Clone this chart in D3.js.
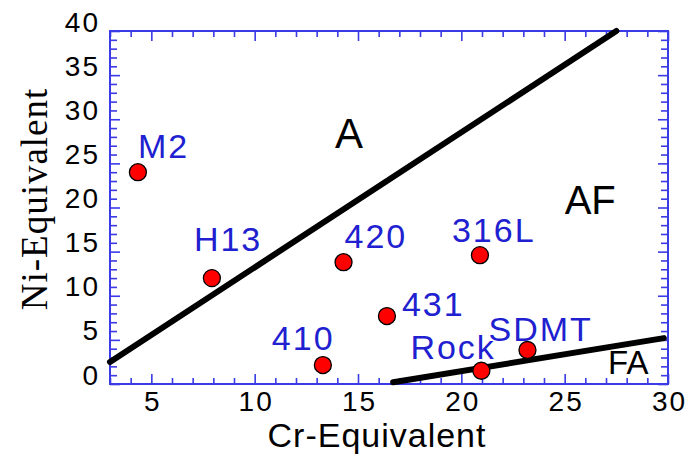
<!DOCTYPE html>
<html>
<head>
<meta charset="utf-8">
<script src="https://cdn.jsdelivr.net/npm/d3@7"></script>
<style>
  body { margin: 0; background: #fff; }
  svg { display: block; }
  text { font-family: "Liberation Sans", Arial, sans-serif; }
</style>
</head>
<body>
<div id="chart"></div>
<script>
////////////////////////////////////////////////////////////////////
//////////////////////////// data //////////////////////////////////
////////////////////////////////////////////////////////////////////

const steels = ["M2", "H13", "420", "316L", "431", "410", "Rock", "SDMT"];
const crEq = [4.35, 7.93, 14.3, 20.9, 16.4, 13.3, 20.97, 23.2];
const niEq = [24.0, 12.0, 13.8, 14.6, 7.7, 2.15, 1.5, 3.85];

// phase boundary lines (Cr, Ni)
const boundaryA = [[3, 2.5], [27.5, 40]];
const boundaryFA = [[16.7, 0.2], [29.8, 5.2]];

// phase field names and where they sit (Cr, Ni)
const fields = ["A", "AF", "FA"];
const fieldCr = [14.56, 25.0, 27.1];
const fieldNi = [26.7, 19.3, 1.1];

const xMajor = [5, 10, 15, 20, 25, 30];
const yMajor = [0, 5, 10, 15, 20, 25, 30, 35, 40];

////////////////////////////////////////////////////////////////////
//////////////////////////// layout ////////////////////////////////
////////////////////////////////////////////////////////////////////

const width = 692, height = 458;
const margin = { top: 31, right: 24, bottom: 74, left: 110 };
const innerW = width - margin.left - margin.right;
const innerH = height - margin.top - margin.bottom;

// label offsets from each point, px
const labelOffset = {
  M2: [0, -14], H13: [-18, -27], "420": [1, -14], "316L": [-28, -13],
  "431": [15, 0], "410": [-51, -15], Rock: [-71, -12], SDMT: [-39, -9]
};
const fieldSize = { A: 42, AF: 40, FA: 33 };

const axisBlue = "#3a3ae6";
const textBlue = "#2020d0";

const svg = d3.select("#chart").append("svg")
  .attr("width", width).attr("height", height);

const g = svg.append("g")
  .attr("transform", `translate(${margin.left},${margin.top})`);

//////////////////////////// scales ////////////////////////////////

const x = d3.scaleLinear().domain([3, 30]).range([0, innerW]);
const y = d3.scaleLinear().domain([0, 40]).range([innerH, 0]);

const xMinor = d3.range(3, 31).filter(v => !xMajor.includes(v));
const yMinor = d3.range(0, 41).filter(v => !yMajor.includes(v));

//////////////////////////// axes //////////////////////////////////

const styleAxis = sel => {
  sel.select(".domain").remove();
  sel.selectAll("line").attr("stroke", axisBlue).attr("stroke-width", 1.6);
};

// bottom
g.append("g").attr("transform", `translate(0,${innerH})`)
  .call(d3.axisBottom(x).tickValues(xMinor).tickSize(-6).tickFormat(""))
  .call(styleAxis);
g.append("g").attr("transform", `translate(0,${innerH})`)
  .call(d3.axisBottom(x).tickValues(xMajor).tickSize(-10))
  .call(styleAxis)
  .call(s => s.selectAll("text")
    .attr("y", 27).attr("dy", 0).attr("dx", 1)
    .attr("fill", "#000").attr("font-size", 28)
    .style("letter-spacing", "2px")
    .attr("font-family", "'Liberation Sans', Arial, sans-serif"));

// top
g.append("g")
  .call(d3.axisTop(x).tickValues(xMinor).tickSize(-6).tickFormat(""))
  .call(styleAxis);
g.append("g")
  .call(d3.axisTop(x).tickValues(xMajor).tickSize(-10).tickFormat(""))
  .call(styleAxis);

// left
g.append("g")
  .call(d3.axisLeft(y).tickValues(yMinor).tickSize(-7).tickFormat(""))
  .call(styleAxis);
g.append("g")
  .call(d3.axisLeft(y).tickValues(yMajor).tickSize(-10))
  .call(styleAxis)
  .call(s => s.selectAll("text")
    .attr("x", -10).attr("dy", 0)
    .attr("fill", "#000").attr("font-size", 28)
    .style("letter-spacing", "2px")
    .attr("font-family", "'Liberation Sans', Arial, sans-serif"));

// right
g.append("g").attr("transform", `translate(${innerW},0)`)
  .call(d3.axisRight(y).tickValues(yMinor).tickSize(-7).tickFormat(""))
  .call(styleAxis);
g.append("g").attr("transform", `translate(${innerW},0)`)
  .call(d3.axisRight(y).tickValues(yMajor).tickSize(-10).tickFormat(""))
  .call(styleAxis);

// frame
g.append("rect")
  .attr("width", innerW).attr("height", innerH)
  .attr("fill", "none").attr("stroke", axisBlue).attr("stroke-width", 2);

//////////////////////////// titles ////////////////////////////////

svg.append("text")
  .attr("x", 377).attr("y", 447)
  .attr("text-anchor", "middle")
  .attr("font-size", 34)
  .style("letter-spacing", "1px")
  .text("Cr-Equivalent");

svg.append("text")
  .attr("transform", "translate(47,199) rotate(-90)")
  .attr("text-anchor", "middle")
  .attr("font-size", 37)
  .style("font-family", "'Liberation Serif', 'Times New Roman', serif")
  .style("letter-spacing", "1px")
  .text("Ni-Equivalent");

//////////////////////////// boundaries ////////////////////////////

const line = d3.line().x(d => x(d[0])).y(d => y(d[1]));

g.selectAll("path.boundary")
  .data([boundaryA, boundaryFA])
  .join("path")
  .attr("class", "boundary")
  .attr("d", line)
  .attr("fill", "none")
  .attr("stroke", "#000")
  .attr("stroke-width", 6)
  .attr("stroke-linecap", "round");

//////////////////////////// fields ////////////////////////////////

g.selectAll("text.field")
  .data(fields)
  .join("text")
  .attr("class", "field")
  .attr("x", (d, i) => x(fieldCr[i]))
  .attr("y", (d, i) => y(fieldNi[i]))
  .attr("text-anchor", d => d === "A" ? "middle" : "start")
  .attr("font-size", d => fieldSize[d])
  .attr("fill", "#000")
  .text(d => d);

//////////////////////////// points ////////////////////////////////

const points = steels.map((name, i) => ({ name, cr: crEq[i], ni: niEq[i] }));

g.selectAll("circle.steel")
  .data(points)
  .join("circle")
  .attr("class", "steel")
  .attr("cx", d => x(d.cr))
  .attr("cy", d => y(d.ni))
  .attr("r", 8.5)
  .attr("fill", "#ff0000")
  .attr("stroke", "#000")
  .attr("stroke-width", 1.3);

g.selectAll("text.steel")
  .data(points)
  .join("text")
  .attr("class", "steel")
  .attr("x", d => x(d.cr) + labelOffset[d.name][0])
  .attr("y", d => y(d.ni) + labelOffset[d.name][1])
  .attr("font-size", 34)
  .style("letter-spacing", "2px")
  .attr("fill", textBlue)
  .text(d => d.name);
</script>
</body>
</html>
